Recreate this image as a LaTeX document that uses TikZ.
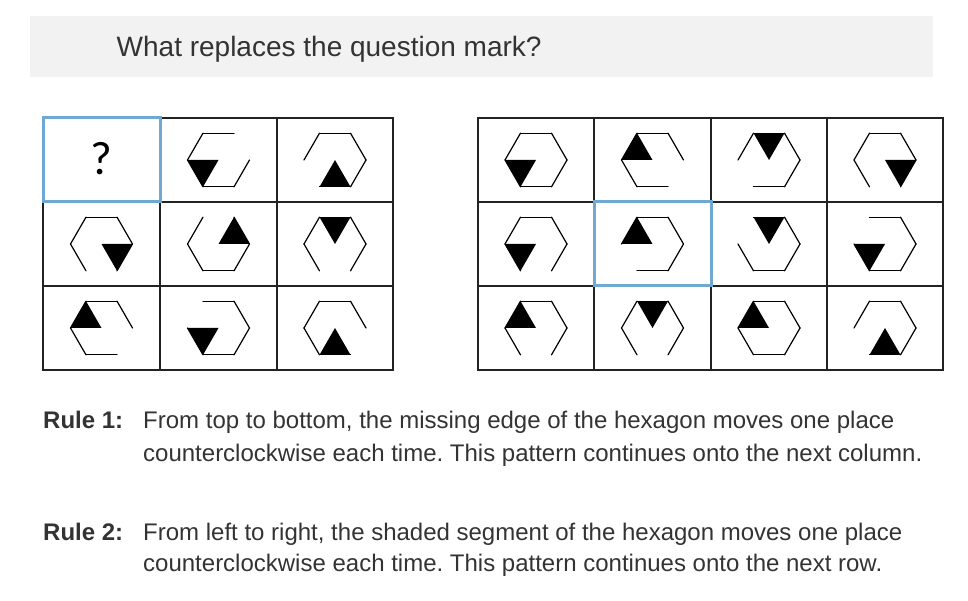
\documentclass[tikz,border=0pt]{standalone}
\usepackage{fontspec}
\setmainfont{Liberation Sans}
\newfontfamily\qfont{Carlito}
\frenchspacing
\definecolor{titlebg}{HTML}{F2F2F2}
\definecolor{txt}{HTML}{333333}
\definecolor{hl}{RGB}{111,168,210}
\definecolor{gridc}{HTML}{222222}
\def\hexR{31}
\newcommand\hexcell[4]{%
  \begin{scope}[shift={(#1,#2)}]
    \fill[black] (0,0) -- ({60*#4}:\hexR) -- ({60*(#4+1)}:\hexR) -- cycle;
    \foreach \i in {0,...,5}{%
      \ifnum\i=#3\relax\else
        \draw[hexline] ({60*\i}:\hexR) -- ({60*(\i+1)}:\hexR);
      \fi}
  \end{scope}}
\begin{document}
\begin{tikzpicture}[x=1pt,y=1pt,
  gridline/.style={draw=gridc,line width=1.6pt},
  hexline/.style={line width=1.2pt,line cap=round},
  hlbox/.style={draw=hl,line width=3pt},
  ttl/.style={font=\fontsize{28}{30}\selectfont,text=txt,inner sep=0pt,anchor=base west},
  rulehead/.style={font=\fontsize{24}{28}\selectfont\bfseries,text=txt,inner sep=0pt,anchor=base west},
  ruletext/.style={font=\fontsize{24}{28}\selectfont,text=txt,inner sep=0pt,anchor=base west},
  qmark/.style={font=\qfont\fontsize{47}{47}\selectfont,text=black,inner sep=0pt}
]
\useasboundingbox (0,0) rectangle (968,600);
% title bar
\fill[titlebg] (30,584) rectangle (933,523);
\node[ttl] (title) at (116.5,543) {What replaces the question mark?};

% left grid
\draw[gridline] (43,230) rectangle (393,482);
\foreach \x in {160,277} \draw[gridline] (\x,230) -- (\x,482);
\foreach \y in {314,398} \draw[gridline] (43,\y) -- (393,\y);
% right grid
\draw[gridline] (478,230) rectangle (943,482);
\foreach \x in {594,711,827} \draw[gridline] (\x,230) -- (\x,482);
\foreach \y in {314,398} \draw[gridline] (478,\y) -- (943,\y);

% left grid hexagons
\hexcell{218.5}{440}{0}{3}
\hexcell{335}{440}{3}{4}
\hexcell{101.5}{356}{4}{5}
\hexcell{218.5}{356}{1}{0}
\hexcell{335}{356}{4}{1}
\hexcell{101.5}{272}{5}{2}
\hexcell{218.5}{272}{2}{3}
\hexcell{335}{272}{5}{4}

% right grid hexagons
\hexcell{536}{440}{-1}{3}
\hexcell{652.5}{440}{5}{2}
\hexcell{769}{440}{3}{1}
\hexcell{885}{440}{4}{5}
\hexcell{536}{356}{4}{3}
\hexcell{652.5}{356}{3}{2}
\hexcell{769}{356}{2}{1}
\hexcell{885}{356}{2}{3}
\hexcell{536}{272}{4}{2}
\hexcell{652.5}{272}{4}{1}
\hexcell{769}{272}{-1}{2}
\hexcell{885}{272}{3}{4}

% highlight boxes
\draw[hlbox] (43,482) rectangle (160,398);
\draw[hlbox] (594,398) rectangle (711,314);
\node[qmark] (q) at (101,441) {?};

% rules
\node[rulehead] (r1h) at (43,172) {Rule 1:};
\node[ruletext] (r1a) at (143,172) {From top to bottom, the missing edge of the hexagon moves one place};
\node[ruletext] (r1b) at (143,139) {counterclockwise each time. This pattern continues onto the next column.};
\node[rulehead] (r2h) at (43,60) {Rule 2:};
\node[ruletext] (r2a) at (143,60) {From left to right, the shaded segment of the hexagon moves one place};
\node[ruletext] (r2b) at (143,29) {counterclockwise each time. This pattern continues onto the next row.};
\end{tikzpicture}
\end{document}
